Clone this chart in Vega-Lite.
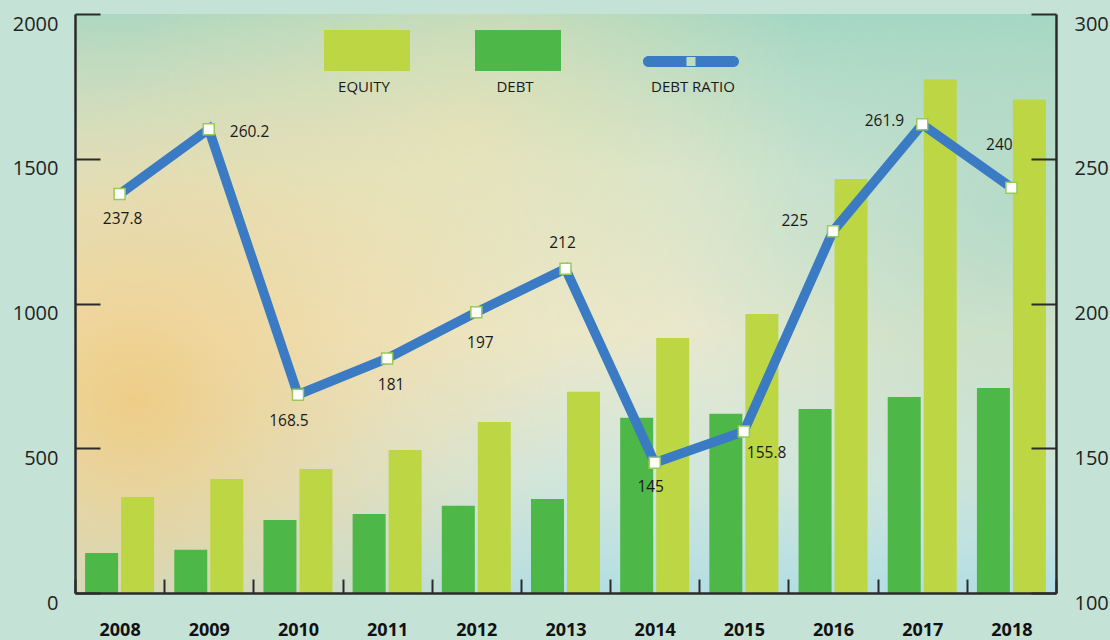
{
  "$schema": "https://vega.github.io/schema/vega-lite/v6.json",
  "width": 981,
  "height": 579,
  "autosize": {"type": "none"},
  "padding": {"left": 75, "top": 14, "right": 54, "bottom": 47},
  "background": "#c4e2d6",
  "config": {
    "view": {"stroke": null},
    "font": "Open Sans",
    "axis": {
      "grid": false,
      "title": null,
      "domainColor": "#2b2b2b",
      "domainWidth": 2.5,
      "tickColor": "#2b2b2b",
      "tickWidth": 2,
      "labelColor": "#222222",
      "labelFont": "Open Sans"
    },
    "legend": {
      "labelFont": "Open Sans",
      "labelFontSize": 15,
      "labelColor": "#1a1a1a",
      "padding": 0
    }
  },
  "datasets": {
    "bars": [
      {"year": "2008", "series": "DEBT", "value": 138},
      {"year": "2008", "series": "EQUITY", "value": 332},
      {"year": "2009", "series": "DEBT", "value": 149},
      {"year": "2009", "series": "EQUITY", "value": 394},
      {"year": "2010", "series": "DEBT", "value": 252},
      {"year": "2010", "series": "EQUITY", "value": 428},
      {"year": "2011", "series": "DEBT", "value": 273},
      {"year": "2011", "series": "EQUITY", "value": 494},
      {"year": "2012", "series": "DEBT", "value": 301},
      {"year": "2012", "series": "EQUITY", "value": 591},
      {"year": "2013", "series": "DEBT", "value": 325},
      {"year": "2013", "series": "EQUITY", "value": 695},
      {"year": "2014", "series": "DEBT", "value": 605},
      {"year": "2014", "series": "EQUITY", "value": 881},
      {"year": "2015", "series": "DEBT", "value": 619},
      {"year": "2015", "series": "EQUITY", "value": 964},
      {"year": "2016", "series": "DEBT", "value": 636},
      {"year": "2016", "series": "EQUITY", "value": 1430},
      {"year": "2017", "series": "DEBT", "value": 677},
      {"year": "2017", "series": "EQUITY", "value": 1775},
      {"year": "2018", "series": "DEBT", "value": 708},
      {"year": "2018", "series": "EQUITY", "value": 1705}
    ],
    "ratio": [
      {"year": "2008", "ratio": 237.8},
      {"year": "2009", "ratio": 260.2},
      {"year": "2010", "ratio": 168.5},
      {"year": "2011", "ratio": 181},
      {"year": "2012", "ratio": 197},
      {"year": "2013", "ratio": 212},
      {"year": "2014", "ratio": 145},
      {"year": "2015", "ratio": 155.8},
      {"year": "2016", "ratio": 225},
      {"year": "2017", "ratio": 261.9},
      {"year": "2018", "ratio": 240}
    ]
  },
  "layer": [
    {
      "data": {"values": [{}]},
      "mark": {
        "type": "rect",
        "fill": {
          "gradient": "linear", "x1": 0, "y1": 0, "x2": 0, "y2": 1,
          "stops": [
            {"offset": 0, "color": "#a4d7c4"},
            {"offset": 0.28, "color": "#d3e6d2"},
            {"offset": 0.55, "color": "#e8e8cf"},
            {"offset": 0.8, "color": "#d1e6dc"},
            {"offset": 1, "color": "#b3dee4"}
          ]
        }
      },
      "encoding": {}
    },
    {
      "data": {"values": [{}]},
      "mark": {
        "type": "rect",
        "fill": {
          "gradient": "radial", "x1": 0.95, "y1": 0.4, "r1": 0, "x2": 0.95, "y2": 0.4, "r2": 0.35,
          "stops": [
            {"offset": 0, "color": "rgba(168,214,196,0.7)"},
            {"offset": 1, "color": "rgba(168,214,196,0)"}
          ]
        }
      },
      "encoding": {}
    },
    {
      "data": {"values": [{}]},
      "mark": {
        "type": "rect",
        "fill": {
          "gradient": "radial", "x1": 0.4, "y1": 0.32, "r1": 0, "x2": 0.4, "y2": 0.32, "r2": 0.35,
          "stops": [
            {"offset": 0, "color": "rgba(246,226,170,0.6)"},
            {"offset": 1, "color": "rgba(246,226,170,0)"}
          ]
        }
      },
      "encoding": {}
    },
    {
      "data": {"values": [{}]},
      "mark": {
        "type": "rect",
        "fill": {
          "gradient": "radial", "x1": 0.06, "y1": 0.6, "r1": 0, "x2": 0.06, "y2": 0.6, "r2": 0.45,
          "stops": [
            {"offset": 0, "color": "rgba(241,200,120,0.85)"},
            {"offset": 0.5, "color": "rgba(243,212,150,0.5)"},
            {"offset": 1, "color": "rgba(243,220,170,0)"}
          ]
        }
      },
      "encoding": {}
    },
    {
      "data": {"name": "bars"},
      "mark": {"type": "bar"},
      "encoding": {
        "x": {
          "field": "year", "type": "ordinal",
          "scale": {"paddingInner": 0, "paddingOuter": 0},
          "axis": {
            "zindex": 1, "tickBand": "extent", "tickSize": -14, "labelPadding": 42,
            "labelFontSize": 18, "labelFontWeight": "bold", "labelColor": "#111111", "labelAngle": 0
          }
        },
        "xOffset": {
          "field": "series", "type": "nominal", "sort": ["DEBT", "EQUITY"],
          "scale": {"paddingInner": 0.083, "paddingOuter": 0.28}
        },
        "y": {
          "field": "value", "type": "quantitative",
          "scale": {"domain": [0, 2000], "nice": false},
          "axis": {"zindex": 1, "format": "d", "values": [0, 500, 1000, 1500, 2000], "tickSize": -25, "labelPadding": 42, "labelOffset": 10, "labelFontSize": 20}
        },
        "color": {
          "field": "series", "type": "nominal",
          "scale": {"domain": ["EQUITY", "DEBT"], "range": ["#bdd744", "#4db848"]},
          "legend": {
            "orient": "none", "legendX": 249, "legendY": 29.5, "direction": "horizontal", "title": null,
            "symbolType": "M-1,-1.314H1V-0.36H-1Z", "symbolSize": 7396, "symbolStrokeWidth": 0, "symbolOpacity": 1,
            "labelAlign": "center", "labelBaseline": "middle", "labelOffset": -46, "columnPadding": 65
          }
        }
      }
    },
    {
      "data": {"name": "ratio"},
      "encoding": {
        "x": {"field": "year", "type": "ordinal"},
        "y": {
          "field": "ratio", "type": "quantitative",
          "scale": {"domain": [100, 300], "nice": false},
          "axis": {"zindex": 1, "format": "d", "orient": "right", "values": [100, 150, 200, 250, 300], "tickSize": -25, "labelPadding": 43, "labelOffset": 10, "labelFontSize": 20}
        }
      },
      "layer": [
        {
          "mark": {"type": "line", "strokeWidth": 9.5},
          "encoding": {
            "stroke": {
              "datum": "DEBT RATIO", "type": "nominal",
              "scale": {"range": ["#3a7bc4"]},
              "legend": {
                "orient": "none", "legendX": 568, "legendY": 25, "title": null,
                "symbolType": "M-0.885,-0.646H0.885A0.115,0.115,0,0,1,0.885,-0.416H-0.885A0.115,0.115,0,0,1,-0.885,-0.646ZM-0.094,-0.625V-0.437H0.094V-0.625Z",
                "symbolSize": 9216, "symbolStrokeWidth": 0, "symbolFillColor": "#3a7bc4",
                "labelAlign": "center", "labelBaseline": "middle", "labelOffset": -46
              }
            }
          }
        },
        {
          "mark": {"type": "point", "shape": "square", "filled": true, "fill": "#ffffff", "stroke": "#98c95a", "strokeWidth": 1.5, "size": 121, "opacity": 1}
        },
        {"transform": [{"filter": "datum.year == '2008'"}], "mark": {"type": "text", "dx": 3, "dy": 25, "align": "center", "baseline": "middle", "fontSize": 15.5, "color": "#1a1a1a"}, "encoding": {"text": {"field": "ratio", "type": "quantitative"}}},
        {"transform": [{"filter": "datum.year == '2009'"}], "mark": {"type": "text", "dx": 21, "dy": 3, "align": "left", "baseline": "middle", "fontSize": 15.5, "color": "#1a1a1a"}, "encoding": {"text": {"field": "ratio", "type": "quantitative"}}},
        {"transform": [{"filter": "datum.year == '2010'"}], "mark": {"type": "text", "dx": -9, "dy": 26, "align": "center", "baseline": "middle", "fontSize": 15.5, "color": "#1a1a1a"}, "encoding": {"text": {"field": "ratio", "type": "quantitative"}}},
        {"transform": [{"filter": "datum.year == '2011'"}], "mark": {"type": "text", "dx": 4, "dy": 26, "align": "center", "baseline": "middle", "fontSize": 15.5, "color": "#1a1a1a"}, "encoding": {"text": {"field": "ratio", "type": "quantitative"}}},
        {"transform": [{"filter": "datum.year == '2012'"}], "mark": {"type": "text", "dx": 4, "dy": 31, "align": "center", "baseline": "middle", "fontSize": 15.5, "color": "#1a1a1a"}, "encoding": {"text": {"field": "ratio", "type": "quantitative"}}},
        {"transform": [{"filter": "datum.year == '2013'"}], "mark": {"type": "text", "dx": -3, "dy": -26, "align": "center", "baseline": "middle", "fontSize": 15.5, "color": "#1a1a1a"}, "encoding": {"text": {"field": "ratio", "type": "quantitative"}}},
        {"transform": [{"filter": "datum.year == '2014'"}], "mark": {"type": "text", "dx": -4, "dy": 24, "align": "center", "baseline": "middle", "fontSize": 15.5, "color": "#1a1a1a"}, "encoding": {"text": {"field": "ratio", "type": "quantitative"}}},
        {"transform": [{"filter": "datum.year == '2015'"}], "mark": {"type": "text", "dx": 3, "dy": 22, "align": "left", "baseline": "middle", "fontSize": 15.5, "color": "#1a1a1a"}, "encoding": {"text": {"field": "ratio", "type": "quantitative"}}},
        {"transform": [{"filter": "datum.year == '2016'"}], "mark": {"type": "text", "dx": -25, "dy": -10, "align": "right", "baseline": "middle", "fontSize": 15.5, "color": "#1a1a1a"}, "encoding": {"text": {"field": "ratio", "type": "quantitative"}}},
        {"transform": [{"filter": "datum.year == '2017'"}], "mark": {"type": "text", "dx": -18, "dy": -3, "align": "right", "baseline": "middle", "fontSize": 15.5, "color": "#1a1a1a"}, "encoding": {"text": {"field": "ratio", "type": "quantitative"}}},
        {"transform": [{"filter": "datum.year == '2018'"}], "mark": {"type": "text", "dx": -12, "dy": -43, "align": "center", "baseline": "middle", "fontSize": 15.5, "color": "#1a1a1a"}, "encoding": {"text": {"field": "ratio", "type": "quantitative"}}}
      ]
    }
  ],
  "resolve": {"scale": {"y": "independent"}}
}
